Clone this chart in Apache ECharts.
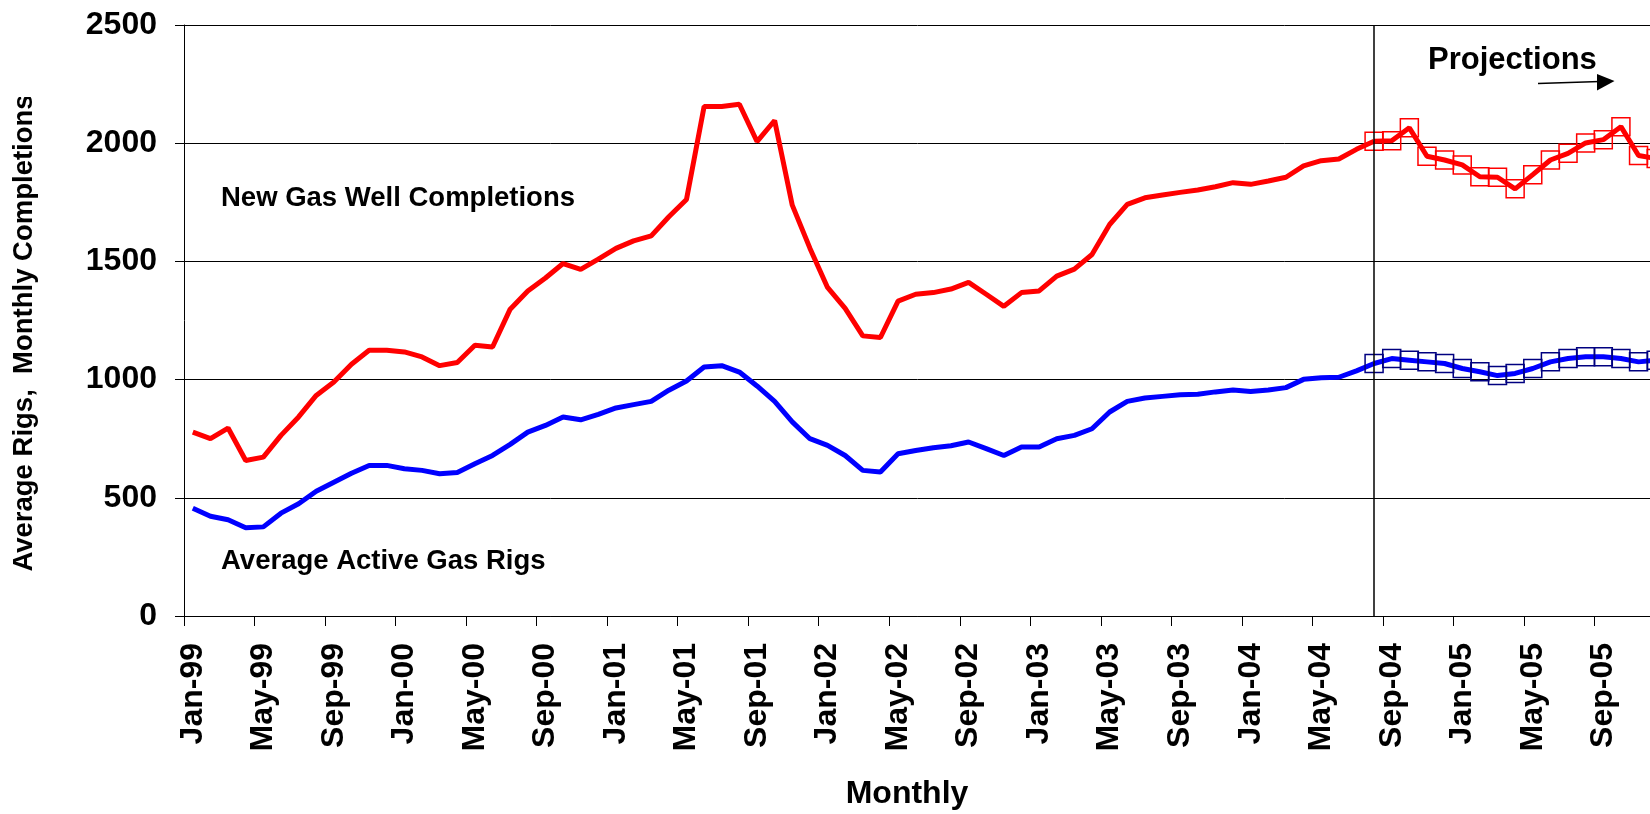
<!DOCTYPE html>
<html>
<head>
<meta charset="utf-8">
<script src="https://cdn.jsdelivr.net/npm/echarts@6/dist/echarts.min.js"></script>
<style>
html,body{margin:0;padding:0;background:#fff;}
#chart{width:1650px;height:814px;}
</style>
</head>
<body>
<div id="chart"></div>
<script>
// ---- Data ----
const months = ['Jan','Feb','Mar','Apr','May','Jun','Jul','Aug','Sep','Oct','Nov','Dec'];
const years = ['99','00','01','02','03','04','05'];
const categories = years.flatMap(y => months.map(m => m + '-' + y));

const yTicks = [0, 500, 1000, 1500, 2000, 2500];

// New gas well completions, Jan-99 .. Aug-04 (actual)
const completionsActual = [
  778, 750, 795, 658, 672, 764, 842, 933, 990, 1065, 1124, 1124,
  1117, 1096, 1059, 1072, 1145, 1138, 1298, 1375, 1430, 1491, 1466, 1510,
  1555, 1587, 1608, 1689, 1762, 2155, 2155, 2165, 2007, 2096, 1738, 1556,
  1390, 1301, 1185, 1178, 1332, 1361, 1368, 1383, 1411, 1361, 1310, 1368,
  1375, 1438, 1467, 1529, 1656, 1741, 1769, 1781, 1792, 1802, 1816, 1833,
  1826, 1840, 1856, 1904, 1926, 1933, 1974, 2008
];
// Projection, Aug-04 .. Dec-05
const completionsProjected = [
  2008, 2010, 2065, 1945, 1929, 1908, 1858, 1856, 1807, 1867, 1929, 1957,
  2001, 2015, 2070, 1948, 1935
];

// Average active gas rigs, Jan-99 .. Aug-04 (actual)
const rigsActual = [
  456, 422, 407, 373, 377, 435, 475, 528, 566, 604, 637, 637,
  623, 616, 602, 607, 644, 679, 726, 778, 806, 842, 830, 853,
  880, 894, 908, 955, 994, 1053, 1059, 1032, 973, 908, 821, 750,
  722, 679, 616, 609, 686, 700, 712, 720, 736, 708, 679, 715,
  715, 750, 764, 792, 863, 908, 922, 929, 936, 938, 948, 956,
  950, 956, 966, 1001, 1008, 1010, 1037, 1068
];
// Projection, Aug-04 .. Dec-05
const rigsProjected = [
  1068, 1089, 1082, 1075, 1068, 1047, 1033, 1017, 1026, 1047, 1075, 1089,
  1097, 1097, 1089, 1075, 1082
];

const projectionStart = 'Aug-04';

// ---- Build series data ----
const startIdx = categories.indexOf(projectionStart);
function padActual(arr) {
  return categories.map((c, i) => (i < arr.length ? arr[i] : null));
}
function padProjected(arr) {
  return categories.map((c, i) => (i >= startIdx && i - startIdx < arr.length ? arr[i - startIdx] : null));
}

const FONT = '"Liberation Sans", Arial, sans-serif';
const chart = echarts.init(document.getElementById('chart'), null, {renderer: 'canvas'});

const option = {
  animation: false,
  backgroundColor: '#fff',
  grid: {
    left: 184, top: 25, width: 1481, height: 591,
    containLabel: false,
    outerBoundsMode: 'none'
  },
  xAxis: {
    type: 'category',
    data: categories,
    boundaryGap: true,
    axisLine: {show: true, onZero: true, lineStyle: {color: '#000', width: 1}},
    axisTick: {show: true, interval: 3, length: 10, inside: false, alignWithLabel: false,
               lineStyle: {color: '#000', width: 1}},
    axisLabel: {
      interval: 3, rotate: 90, margin: 27,
      color: '#000', fontFamily: FONT, fontWeight: 'bold', fontSize: 32,
      hideOverlap: false
    },
    splitLine: {show: false}
  },
  yAxis: {
    type: 'value',
    min: yTicks[0], max: yTicks[yTicks.length - 1], interval: 500,
    axisLine: {show: true, lineStyle: {color: '#000', width: 1}},
    axisTick: {show: true, length: 9, inside: false, lineStyle: {color: '#000', width: 1}},
    axisLabel: {
      margin: 27, color: '#000', fontFamily: FONT, fontWeight: 'bold', fontSize: 32,
      formatter: v => String(v)
    },
    splitLine: {show: true, lineStyle: {color: '#000', width: 1}}
  },
  series: [
    {
      name: 'New Gas Well Completions',
      type: 'line',
      data: padActual(completionsActual),
      showSymbol: false, symbol: 'none',
      lineStyle: {color: '#ff0000', width: 5},
      itemStyle: {color: '#ff0000'},
      connectNulls: false,
      z: 3,
      markLine: {
        silent: true,
        symbol: ['none', 'none'],
        label: {show: false},
        lineStyle: {color: '#000', width: 1.5, type: 'solid'},
        data: [{xAxis: projectionStart}]
      }
    },
    {
      name: 'New Gas Well Completions (projected)',
      type: 'line',
      data: padProjected(completionsProjected),
      symbol: 'rect', symbolSize: 18, showSymbol: true, showAllSymbol: true,
      lineStyle: {color: '#ff0000', width: 5},
      itemStyle: {color: 'rgba(0,0,0,0)', borderColor: '#ff0000', borderWidth: 1.5},
      z: 4
    },
    {
      name: 'Average Active Gas Rigs',
      type: 'line',
      data: padActual(rigsActual),
      showSymbol: false, symbol: 'none',
      lineStyle: {color: '#0000ff', width: 5},
      itemStyle: {color: '#0000ff'},
      z: 3
    },
    {
      name: 'Average Active Gas Rigs (projected)',
      type: 'line',
      data: padProjected(rigsProjected),
      symbol: 'rect', symbolSize: 18, showSymbol: true, showAllSymbol: true,
      lineStyle: {color: '#0000ff', width: 5},
      itemStyle: {color: 'rgba(0,0,0,0)', borderColor: '#000080', borderWidth: 1.5},
      z: 4
    }
  ],
  graphic: [
    {
      type: 'text', x: 221, y: 198, z: 10,
      style: {text: 'New Gas Well Completions', font: 'bold 27.5px ' + FONT, fill: '#000',
              textAlign: 'left', textVerticalAlign: 'middle'}
    },
    {
      type: 'text', x: 221, y: 561, z: 10,
      style: {text: 'Average Active Gas Rigs', font: 'bold 27.5px ' + FONT, fill: '#000',
              textAlign: 'left', textVerticalAlign: 'middle'}
    },
    {
      type: 'text', x: 1428, y: 60, z: 10,
      style: {text: 'Projections', font: 'bold 31px ' + FONT, fill: '#000',
              textAlign: 'left', textVerticalAlign: 'middle'}
    },
    {
      type: 'line', z: 10,
      shape: {x1: 1538, y1: 83.5, x2: 1600, y2: 81.5},
      style: {stroke: '#000', lineWidth: 1.5}
    },
    {
      type: 'polygon', z: 10,
      shape: {points: [[1614.5, 81], [1597, 74], [1597, 90.5]]},
      style: {fill: '#000'}
    },
    {
      type: 'text', x: 24, y: 333, rotation: Math.PI / 2, z: 10,
      style: {text: 'Average Rigs,  Monthly Completions', font: 'bold 27.5px ' + FONT, fill: '#000',
              textAlign: 'center', textVerticalAlign: 'middle'}
    },
    {
      type: 'rect', z: 11,
      shape: {x: 0, y: 0, width: 60, height: 97},
      style: {fill: '#fff'}
    },
    {
      type: 'text', x: 907, y: 794, z: 10,
      style: {text: 'Monthly', font: 'bold 32px ' + FONT, fill: '#000',
              textAlign: 'center', textVerticalAlign: 'middle'}
    }
  ]
};
chart.setOption(option);
</script>
</body>
</html>
